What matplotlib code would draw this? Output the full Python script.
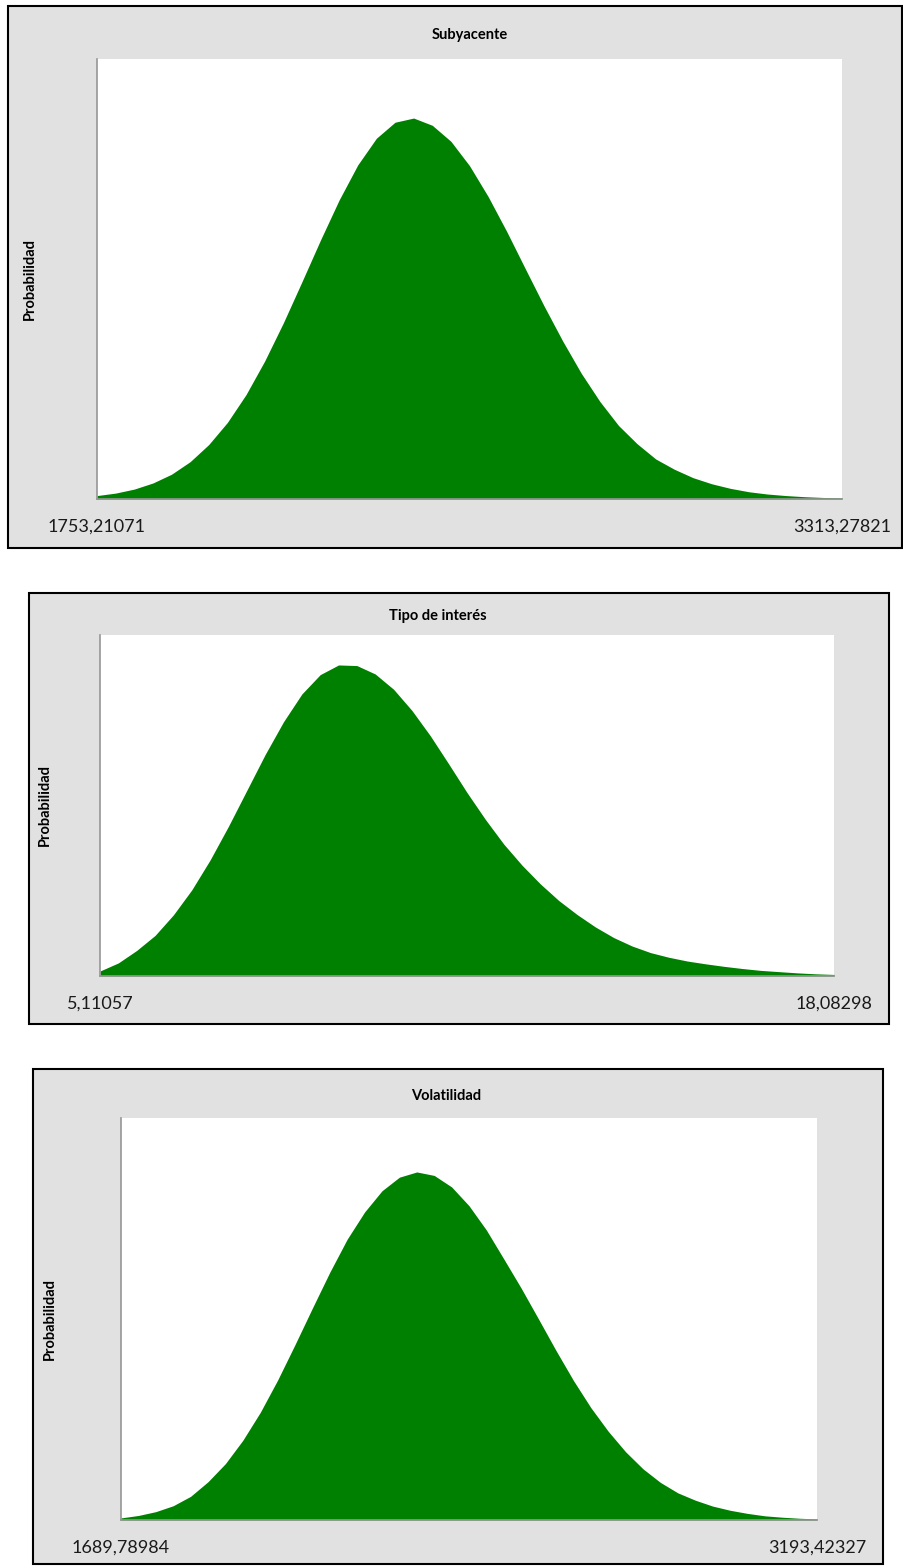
import numpy as np
import matplotlib
matplotlib.use("Agg")
from matplotlib import pyplot as plt
from matplotlib.patches import Rectangle

plt.rcParams['font.family'] = ['Lato', 'DejaVu Sans']

# chart titles and axis end labels
titles = ["Subyacente", "Tipo de interés", "Volatilidad"]
x_ends = [(1753.21071, 3313.27821), (5.11057, 18.08298), (1689.78984, 3193.42327)]
x_labels = [("1753,21071", "3313,27821"), ("5,11057", "18,08298"), ("1689,78984", "3193,42327")]

# density (relative to each peak), 41 evenly spaced points
subyacente = [0.009, 0.0155, 0.026, 0.042, 0.065, 0.098, 0.143, 0.201, 0.274, 0.362,
              0.462, 0.570, 0.680, 0.785, 0.877, 0.947, 0.989, 1.000, 0.981, 0.939,
              0.875, 0.794, 0.702, 0.604, 0.507, 0.415, 0.330, 0.256, 0.193, 0.145,
              0.105, 0.078, 0.056, 0.040, 0.028, 0.019, 0.013, 0.009, 0.006, 0.004, 0.003]
tipo_interes = [0.016, 0.042, 0.082, 0.130, 0.196, 0.276, 0.372, 0.480, 0.595, 0.710,
                0.815, 0.904, 0.966, 0.997, 0.995, 0.968, 0.919, 0.851, 0.770, 0.680,
                0.588, 0.502, 0.423, 0.355, 0.295, 0.242, 0.197, 0.157, 0.123, 0.096,
                0.075, 0.060, 0.048, 0.039, 0.031, 0.024, 0.018, 0.014, 0.010, 0.007, 0.005]
volatilidad = [0.006, 0.013, 0.024, 0.041, 0.068, 0.110, 0.162, 0.229, 0.309, 0.402,
               0.504, 0.609, 0.712, 0.807, 0.885, 0.946, 0.985, 1.000, 0.990, 0.957,
               0.903, 0.833, 0.750, 0.666, 0.577, 0.487, 0.401, 0.323, 0.255, 0.196,
               0.147, 0.108, 0.078, 0.057, 0.040, 0.028, 0.019, 0.012, 0.008, 0.005, 0.003]
series = [subyacente, tipo_interes, volatilidad]

W, H = 904, 1566
GREEN = "#008000"
BG = "#e1e1e1"

# pixel layout: outer frame, plot area, title x, ylabel x
frames = [(8, 6, 902, 548), (29, 593, 889, 1024), (33, 1069, 883, 1564)]
areas = [(97, 59, 842, 499), (100, 635, 834, 976), (121, 1118, 817, 1520)]
title_x = [470, 438, 446]
ylab_x = [30, 45, 50]
ytop = [1.155, 1.093, 1.155]

fig = plt.figure(figsize=(W / 100, H / 100), dpi=100)

for k in range(3):
    x0, y0, x1, y1 = frames[k]
    fig.add_artist(Rectangle((x0 / W, 1 - y1 / H), (x1 - x0) / W, (y1 - y0) / H,
                             transform=fig.transFigure, facecolor=BG,
                             edgecolor="black", linewidth=1.5, zorder=-1))

    a0, b0, a1, b1 = areas[k]
    ax = fig.add_axes([a0 / W, 1 - b1 / H, (a1 - a0) / W, (b1 - b0) / H])
    ax.set_facecolor("white")

    lo, hi = x_ends[k]
    xs = np.linspace(lo, hi, len(series[k]))
    ax.fill_between(xs, 0, series[k], color=GREEN, linewidth=0)
    ax.set_xlim(lo, hi)
    ax.set_ylim(0, ytop[k])

    for s in ["top", "right"]:
        ax.spines[s].set_visible(False)
    for s in ["left", "bottom"]:
        ax.spines[s].set_color("#969696")
        ax.spines[s].set_linewidth(1.2)

    ax.set_yticks([])
    ax.set_xticks([lo, hi])
    ax.set_xticklabels(x_labels[k], fontsize=13, color="#1a1a1a")
    ax.tick_params(axis="x", which="major", length=0, pad=14)
    ax.set_xticks([lo], minor=True)
    ax.tick_params(axis="x", which="minor", length=6, width=1.2, color="#969696")

    fig.text(title_x[k] / W, 1 - ((y0 + b0) / 2 + 2) / H, titles[k],
             ha="center", va="center", fontsize=10.5, fontweight="bold")
    fig.text(ylab_x[k] / W, 1 - ((b0 + b1) / 2) / H, "Probabilidad",
             ha="center", va="center", rotation=90, fontsize=10.5, fontweight="bold")

fig.savefig("out.png", dpi=100)
